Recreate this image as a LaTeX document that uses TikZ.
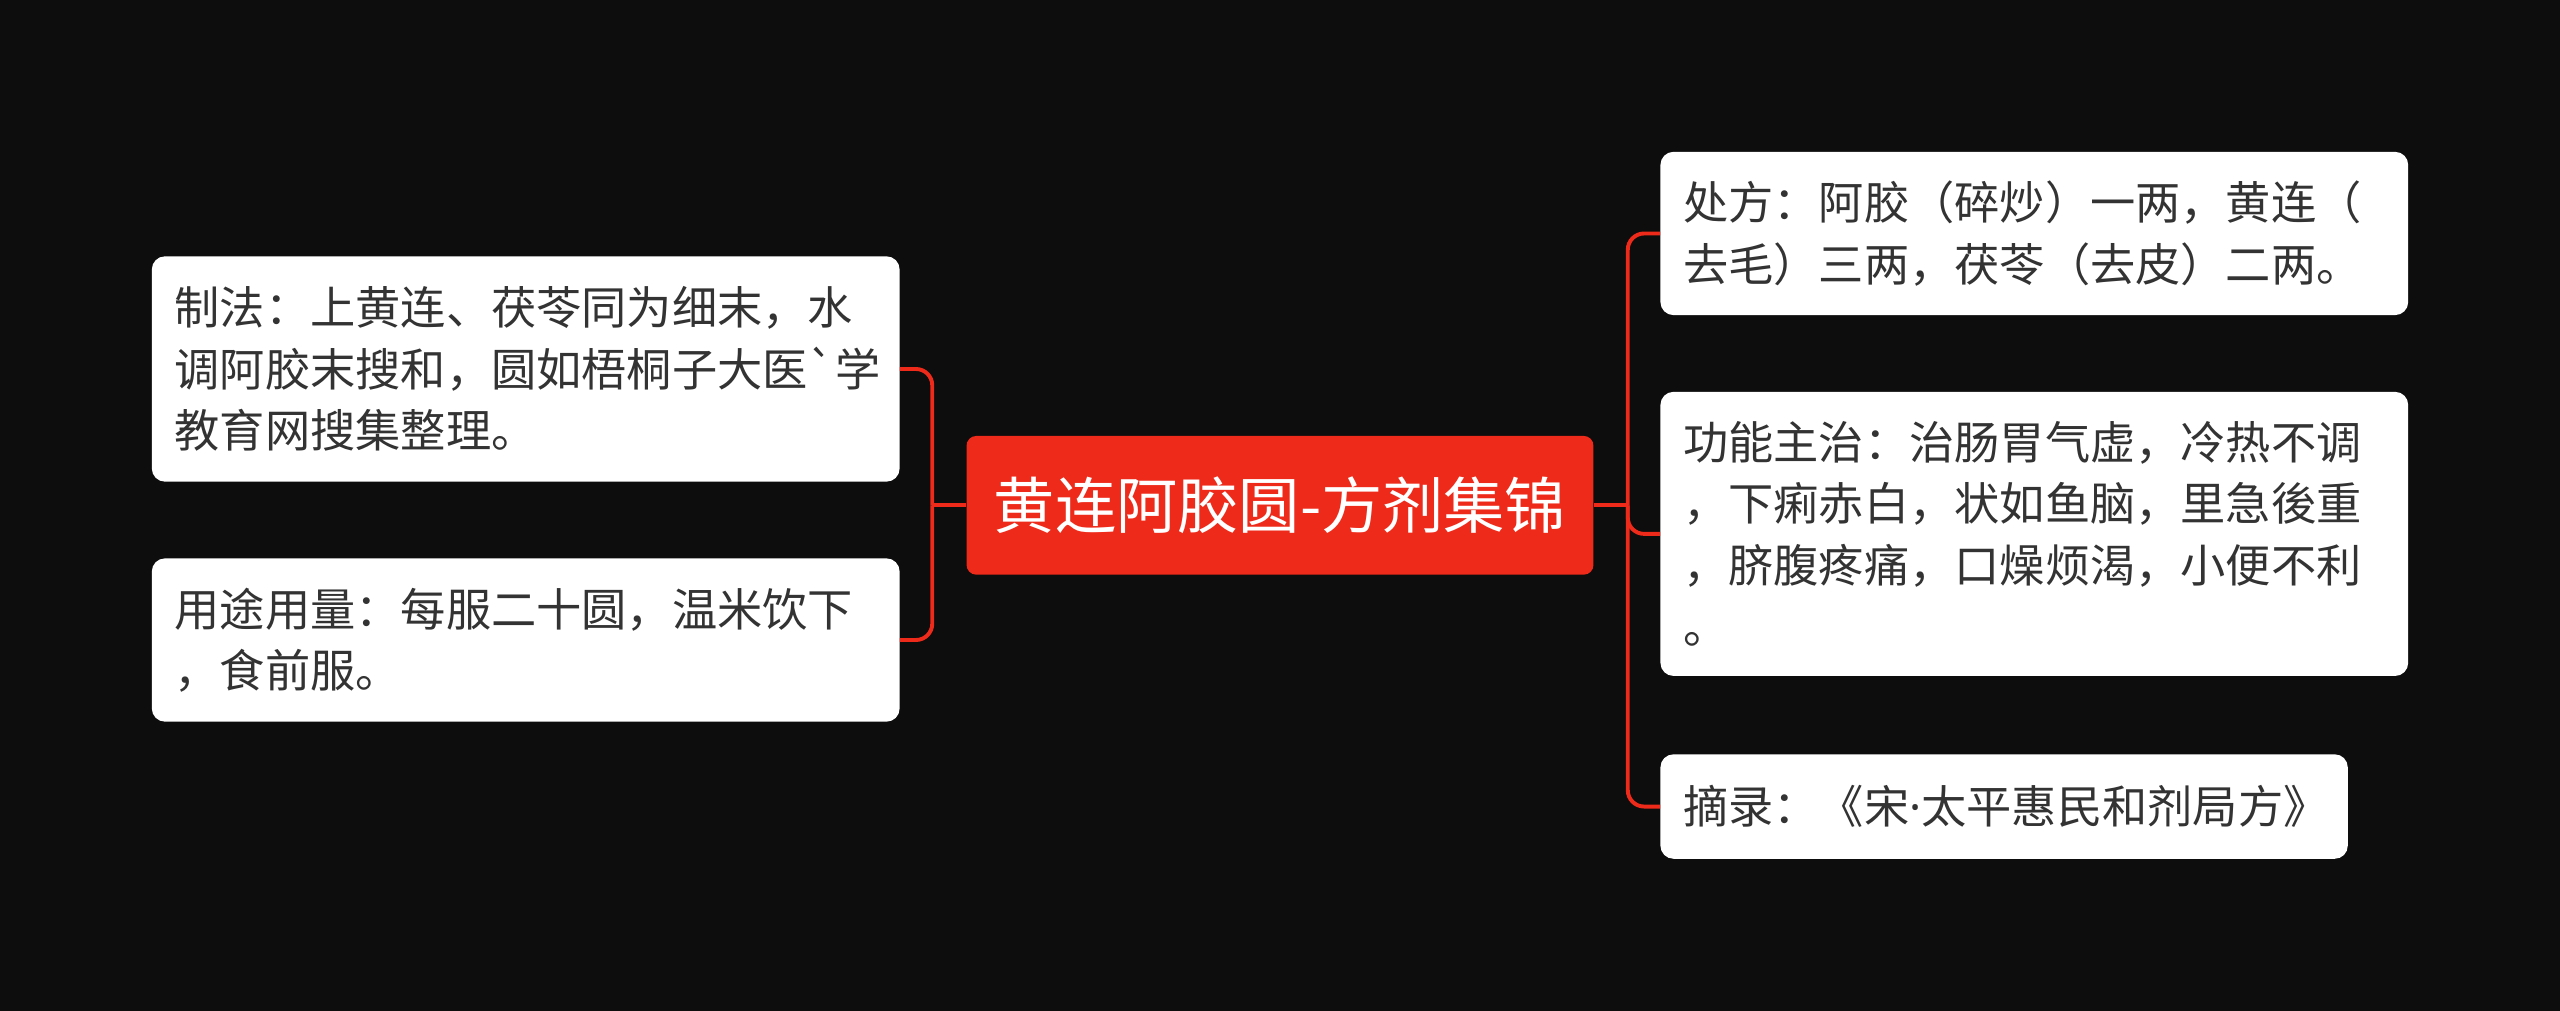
\documentclass[tikz,border=0pt]{standalone}
\usepackage{fontspec}
\setmainfont{Noto Sans CJK SC}
\newfontfamily\plainfont{Noto Sans CJK SC}
\newfontfamily\latinfont{Noto Sans}
\usepackage{xcolor}
\definecolor{bgdark}{HTML}{0D0D0D}
\definecolor{mapred}{HTML}{EE2A1A}
\definecolor{leaftext}{HTML}{333333}

\begin{document}
\begin{tikzpicture}[x=1pt,y=1pt,
    rootbox/.style={fill=mapred, rounded corners=6pt, text=white, inner sep=0pt,
        minimum width=384pt, minimum height=85pt, font=\fontsize{37.5}{40}\selectfont},
    leafbox/.style={fill=white, rounded corners=8pt, text=leaftext, inner xsep=14pt, inner ysep=0pt,
        align=left, font=\fontsize{27.7}{37.5}\selectfont},
    branch/.style={draw=mapred, line width=2.4pt, rounded corners=10pt}]
    \fill [bgdark] (0,0) rectangle (1568,-619);
    \useasboundingbox (0,0) rectangle (1568,-619);
    % main topic
    \node [rootbox] (root) at (784,-309.5) {黄连阿胶圆-方剂集锦};
    % left side
    \node [leafbox, text width=430pt, minimum height=138pt] (zhifa) at (322,-226)
        {制法：上黄连、茯苓同为细末，水\\调阿胶末搜和，圆如梧桐子大医{\plainfont`}学\\教育网搜集整理。};
    \node [leafbox, text width=430pt, minimum height=100pt] (yongtu) at (322,-392)
        {用途用量：每服二十圆，温米饮下\\，食前服。};
    % right side
    \node [leafbox, text width=430pt, minimum height=100pt] (chufang) at (1246,-143)
        {处方：阿胶（碎炒）一两，黄连（\\去毛）三两，茯苓（去皮）二两。};
    \node [leafbox, text width=430pt, minimum height=174pt] (gongneng) at (1246,-327)
        {功能主治：治肠胃气虚，冷热不调\\，下痢赤白，状如鱼脑，里急後重\\，脐腹疼痛，口燥烦渴，小便不利\\。};
    \node [leafbox, text width=393pt, minimum height=64pt] (zhailu) at (1227.5,-494)
        {摘录：《宋{\latinfont·}太平惠民和剂局方》};
    % connectors
    \coordinate (jl) at (571,-309.5);
    \coordinate (jr) at (997,-309.5);
    \draw [branch] (root.west) -- (jl);
    \draw [branch] (jl) |- (zhifa.east);
    \draw [branch] (jl) |- (yongtu.east);
    \draw [branch] (root.east) -- (jr);
    \draw [branch] (jr) |- (chufang.west);
    \draw [branch] (jr) |- (gongneng.west);
    \draw [branch] (jr) |- (zhailu.west);
\end{tikzpicture}
\end{document}
